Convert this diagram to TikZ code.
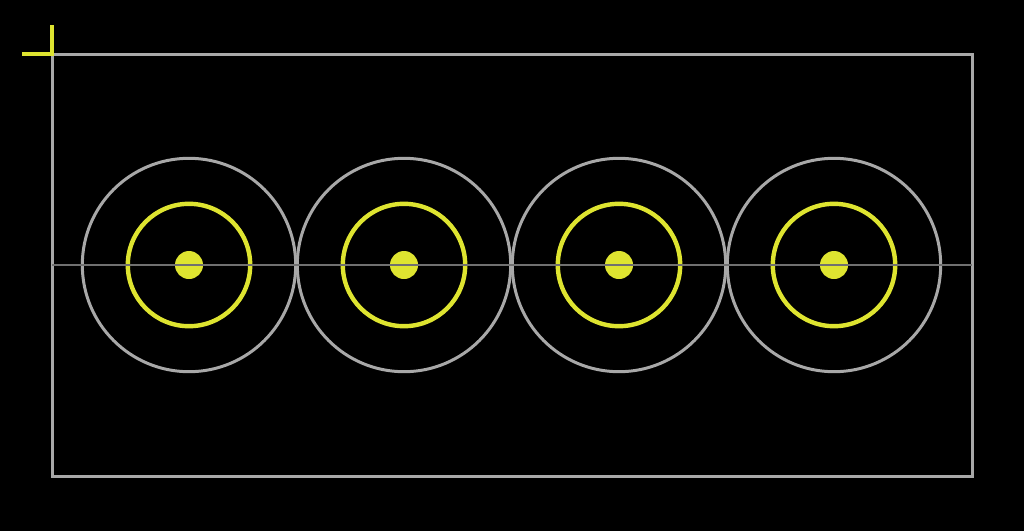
\documentclass[tikz,border=0pt]{standalone}
\definecolor{padyellow}{RGB}{222,228,48}
\definecolor{outline}{RGB}{168,168,168}
\definecolor{axisgray}{RGB}{112,112,112}
\begin{document}
\begin{tikzpicture}[x=0.5pt,y=-0.5pt]
      \fill[black] (0,0) rectangle (1024,531) ;
      \useasboundingbox (0,0) rectangle (1024,531) ;
      \draw[outline,line width=1.5pt] (52,54) rectangle (972,476) ;
      \draw[padyellow,line width=2pt] (22,54)--(52,54)--(52,25) ;
      \foreach \cx [count=\i] in {189,404,619,834} {
        \coordinate (c\i) at (\cx,265) ;
        \draw[outline,line width=1.5pt] (c\i) circle (106.7) ;
        \draw[padyellow,line width=2.2pt] (c\i) circle (61.2) ;
        \fill[padyellow] (c\i) circle (14) ;
      }
      \draw[axisgray,line width=1pt] (52,265)--(972,265) ;
    \end{tikzpicture}
\end{document}
